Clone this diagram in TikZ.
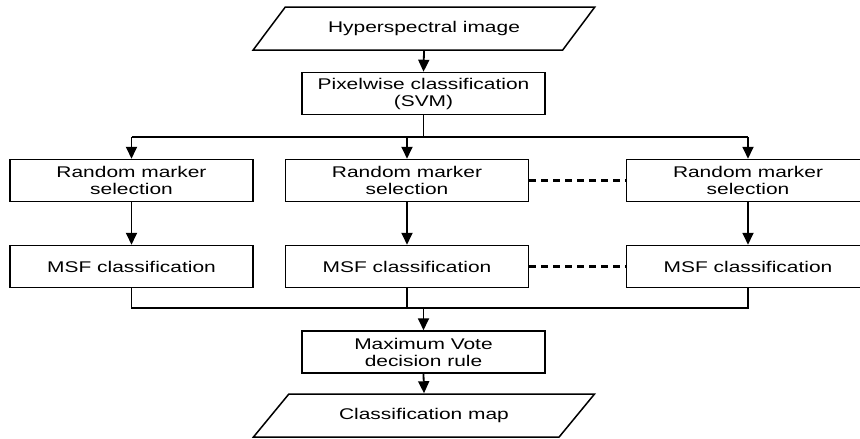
\documentclass[tikz,border=0pt]{standalone}
\usepackage{fontspec}
\setmainfont{Liberation Sans}[FakeStretch=1.35]
\usetikzlibrary{arrows.meta,shapes.geometric}

\tikzset{
  box/.style={draw, line width=1.5pt, minimum width=243pt, minimum height=42pt,
    align=center, inner sep=0pt, font=\fontsize{15.5}{17}\selectfont},
  iobox/.style={box, trapezium, trapezium left angle=33, trapezium right angle=147,
    trapezium stretches=true, minimum width=342pt, minimum height=43pt},
  arr/.style={line width=1.8pt, -{Triangle[length=12pt,width=11pt]}},
  link/.style={line width=1.8pt},
  dots/.style={line width=2.2pt, dash pattern=on 7pt off 5pt}
}

\begin{document}
\begin{tikzpicture}[x=1pt,y=-1pt]
\useasboundingbox (0,0) rectangle (860,439);
\clip (0,0) rectangle (860,439);

% input and first step
\node[iobox] (img) at (424,28.5) {Hyperspectral image};
\node[box] (svm) at (423.5,93.5) {Pixelwise classification\\(SVM)};

% three parallel branches
\node[box] (rnd1) at (131.5,180.5) {Random marker\\selection};
\node[box] (rnd2) at (407,180.5) {Random marker\\selection};
\node[box] (rnd3) at (748,180.5) {Random marker\\selection};
\node[box] (msf1) at (131.5,266.5) {MSF classification};
\node[box] (msf2) at (407,266.5) {MSF classification};
\node[box] (msf3) at (748,266.5) {MSF classification};

% fusion and output
\node[box] (vote) at (423.5,352) {Maximum Vote\\decision rule};
\node[iobox] (map) at (424,415.5) {Classification map};

\coordinate (split) at (423.5,137);
\coordinate (b1) at (131.5,137);
\coordinate (b3) at (748,137);
\coordinate (m1) at (131.5,308);
\coordinate (m3) at (748,308);

\draw[arr] (img.south) -- (svm.north);
\draw[link] (svm.south) -- (split);
\draw[link] (b1) -- (b3);
\draw[arr] (b1) -- (rnd1.north);
\draw[arr] (rnd2.north |- b1) -- (rnd2.north);
\draw[arr] (b3) -- (rnd3.north);

\draw[arr] (rnd1.south) -- (msf1.north);
\draw[arr] (rnd2.south) -- (msf2.north);
\draw[arr] (rnd3.south) -- (msf3.north);

\draw[dots] (rnd2.east) -- (rnd3.west);
\draw[dots] (msf2.east) -- (msf3.west);

\draw[link] (msf1.south) -- (m1) -- (m3) -- (msf3.south);
\draw[link] (msf2.south) -- (msf2.south |- m1);
\draw[arr] (vote.north |- m1) -- (vote.north);
\draw[arr] (vote.south) -- (map.north);

\end{tikzpicture}
\end{document}
